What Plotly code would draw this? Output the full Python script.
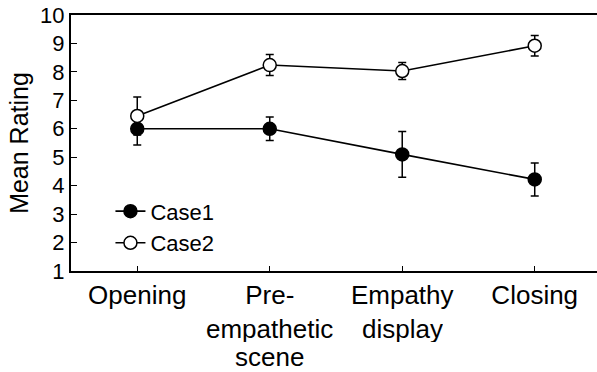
import plotly.graph_objects as go

categories = ["Opening", "Pre-<br>empathetic<br>scene", "Empathy<br>display", "Closing"]
case1_mean = [6.0, 6.0, 5.1, 4.22]
case1_err = [0.57, 0.41, 0.8, 0.58]
case2_mean = [6.45, 8.24, 8.03, 8.92]
case2_err = [0.67, 0.37, 0.3, 0.36]
y_ticks = [1, 2, 3, 4, 5, 6, 7, 8, 9, 10]

font = "Liberation Sans, Arial, sans-serif"
x = list(range(len(categories)))
lines = [c.split("<br>") for c in categories]
first_lines = [l[0] for l in lines]

fig = go.Figure()
fig.add_trace(go.Scatter(
    x=x, y=case1_mean, name="Case1", mode="lines+markers",
    line=dict(color="black", width=1.6),
    marker=dict(symbol="circle", size=13, color="black", line=dict(color="black", width=1.5)),
    error_y=dict(type="data", array=case1_err, color="black", thickness=1.5, width=4),
))
fig.add_trace(go.Scatter(
    x=x, y=case2_mean, name="Case2", mode="lines+markers",
    line=dict(color="black", width=1.6),
    marker=dict(symbol="circle", size=13, color="white", line=dict(color="black", width=1.5)),
    error_y=dict(type="data", array=case2_err, color="black", thickness=1.5, width=4),
))

# continuation lines of the category labels (tight line spacing as in the reference)
for i, parts in enumerate(lines):
    for j, txt in enumerate(parts[1:], start=1):
        fig.add_annotation(
            x=i, xref="x", y=0, yref="paper", text=txt, showarrow=False,
            yanchor="middle", xanchor="center", yshift=-30 - 27.5 * j,
            height=27, borderpad=0, valign="middle",
            font=dict(size=26, family=font, color="black"),
        )

fig.update_layout(
    width=597, height=372,
    margin=dict(l=71, r=0, t=15, b=101),
    paper_bgcolor="white", plot_bgcolor="white",
    font=dict(family=font, size=22, color="black"),
    showlegend=True,
    legend=dict(x=0.075, y=0.315, xanchor="left", yanchor="top",
                bgcolor="rgba(0,0,0,0)", font=dict(size=22),
                tracegroupgap=0),
    xaxis=dict(
        range=[-0.5, 3.47], tickmode="array", tickvals=x, ticktext=first_lines,
        showline=True, linecolor="black", linewidth=2, mirror=True,
        ticks="inside", ticklen=5, tickwidth=1, tickcolor="black",
        showgrid=False, zeroline=False, tickfont=dict(size=26),
    ),
    yaxis=dict(
        range=[1, 10], tickmode="array", tickvals=y_ticks,
        showline=True, linecolor="black", linewidth=2, mirror=False,
        ticks="inside", ticklen=6, tickwidth=1, tickcolor="black",
        showgrid=False, zeroline=False, tickfont=dict(size=22),
        ticklabeloverflow="allow",
        title=dict(text="Mean Rating", font=dict(size=25), standoff=4),
    ),
)

fig.write_html("out.html", config={"displayModeBar": False},
               post_script="document.body.style.margin='0';")
